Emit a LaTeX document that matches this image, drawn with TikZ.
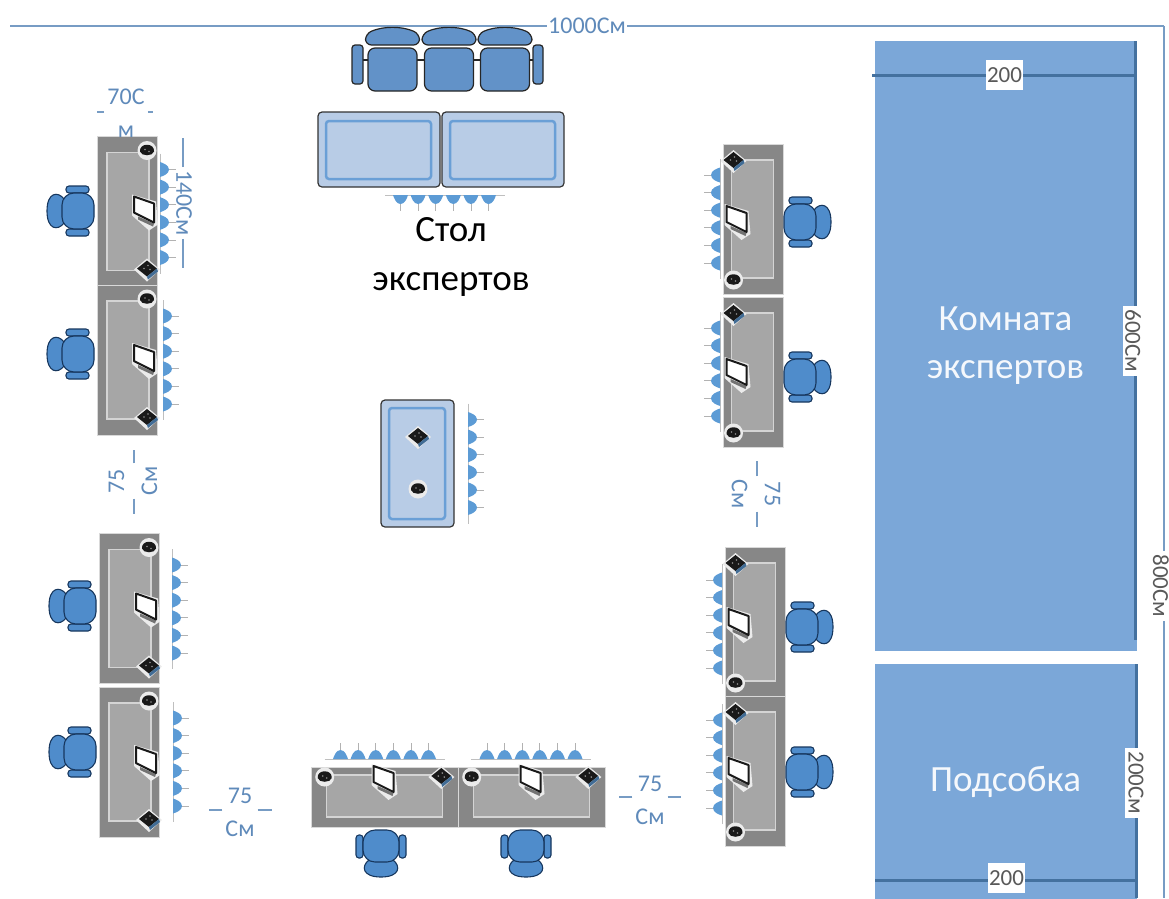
\documentclass[tikz,border=0pt]{standalone}
\usepackage{fontspec}
\setmainfont{Carlito}
\usepackage{xcolor}
\usetikzlibrary{positioning}
\definecolor{roomblue}{HTML}{7BA7D8}
\definecolor{roomedge}{HTML}{44719F}
\definecolor{chairblue}{HTML}{4F8CCB}
\definecolor{chairedge}{HTML}{17375E}
\definecolor{sofablue}{HTML}{6292C8}
\definecolor{tablefill}{HTML}{B8CCE6}
\definecolor{tablerim}{HTML}{6A9FD6}
\definecolor{lampblue}{HTML}{5C9BD5}
\definecolor{dimblue}{HTML}{5F8ABA}
\begin{document}
\begin{tikzpicture}[x=1pt,y=-1pt,
    dimlabel/.style={text=dimblue,inner sep=3pt,align=center,font=\fontsize{24}{33}\selectfont},
    dimline/.style={draw=dimblue!85,line width=1.2pt},
    sizelabel/.style={fill=white,text=black!65,inner sep=0pt,align=center,font=\fontsize{23}{24}\selectfont},
    roomline/.style={draw=roomedge,line width=3pt},
    room/.style={rectangle,fill=roomblue,text=white!92!roomblue,align=center,font=\fontsize{37}{48}\selectfont},
    topfurn/.style={draw=black!80,line width=1.2pt,fill=tablefill,rounded corners=4pt},
    toprim/.style={draw=tablerim,line width=2.5pt,rounded corners=3pt},
    chairpart/.style={draw=chairedge,line width=1.1pt,fill=chairblue},
    sofapart/.style={draw=black!85,line width=1.2pt,fill=sofablue},
    pics/lamps/.style={code={
        \draw[black!25,line width=.8pt] (-60,0) -- (60,0);
        \foreach \lx in {-44,-26.4,-8.8,8.8,26.4,44} {
            \draw[black!30,line width=.8pt] (\lx,-8) -- (\lx,-16);
            \fill[lampblue,shift={(\lx,0)}] (-7.5,0) .. controls (-6.5,-3) and (-4.5,-9) .. (0,-9) .. controls (4.5,-9) and (6.5,-3) .. (7.5,0) -- cycle;
        }
    }},
    pics/phone/.style={code={
        \fill[black!8] (0,0) circle[radius=9.5];
        \fill[black!90] (-7,1) .. controls (-8,-8) and (8,-8) .. (7,1) .. controls (6,6) and (-6,6) .. (-7,1) -- cycle;
        \fill[black!45] (-2,-1) circle[radius=.9];
        \fill[black!45] (2,1) circle[radius=.9];
    }},
    pics/switchbox/.style={code={
        \fill[black!8] (-13,0) -- (0,-11) -- (13,0) -- (0,12) -- cycle;
        \fill[black!90] (-10,-1) -- (0,-9) -- (10,-1) -- (0,7) -- cycle;
        \fill[lampblue!70!black] (0,7) -- (10,-1) -- (11,2) -- (1,10) -- cycle;
        \foreach \bx/\by in {-3/-1,1/-4,3/0} {\fill[black!45] (\bx,\by) circle[radius=.9];}
    }},
    pics/screen/.style={code={
        \fill[black!8] (-12,-16) -- (12,-9) -- (14,14) -- (5,20) -- (-12,5) -- cycle;
        \fill[black!55] (-6,6) -- (10,13) -- (9,16) -- (-6,9) -- cycle;
        \draw[black!90,line width=2pt,fill=white,line join=round] (-10,-14) -- (10,-7) -- (10,12) -- (-10,2) -- cycle;
    }},
    pics/workdesk/.style={code={
        \fill[black!47] (-75,-30) rectangle (75,30);
        \draw[black!15,line width=.8pt] (-75,-30) rectangle (75,30);
        \draw[black!17,line width=1.5pt,fill=black!35] (-59,-22) rectangle (59,20);
        \pic at (-61,-20) {phone};
        \pic at (58,-20) {switchbox};
        \pic at (-1,-17) {screen};
    }},
    pics/chair/.style={code={
        \draw[chairpart] (-12,14) .. controls (-20,20) and (-19,31) .. (0,31) .. controls (19,31) and (20,20) .. (12,14) -- cycle;
        \draw[chairpart,rounded corners=3pt] (-25,-11) rectangle (-18,12);
        \draw[chairpart,rounded corners=3pt] (18,-11) rectangle (25,12);
        \draw[chairpart,rounded corners=12pt] (-18,-16) rectangle (18,16);
    }},
    pics/sofaseat/.style={code={
        \draw[sofapart,rounded corners=6pt] (-27,-3) -- (-27,-14) .. controls (-10,-22) and (10,-22) .. (27,-14) -- (27,-3) -- cycle;
        \draw[sofapart,rounded corners=7pt] (-24.5,0) rectangle (24.5,43);
    }}
]
\useasboundingbox (0,0) rectangle (1169,898);

% rooms
\node[room,minimum width=262pt,minimum height=610pt] (mainroom) at (1005.5,346) {Комната\\экспертов};
\node[room,minimum width=262pt,minimum height=236pt] (backroom) at (1005.5,782) {Подсобка};
\coordinate (maintop) at (1135.5,41);
\coordinate (mainbot) at (1135.5,640);
\coordinate (backtop) at (1136.5,664);
\coordinate (backbot) at (1136.5,898);
\draw[roomline] (maintop) -- (mainbot);
\draw[roomline] (backtop) -- (backbot);
\coordinate (mainw) at (872,75);
\coordinate (maine) at (1135,75);
\coordinate (backw) at (875,880);
\coordinate (backe) at (1136,880);
\draw[roomline] (mainw) -- (maine);
\draw[roomline] (backw) -- (backe);
\node[sizelabel,minimum width=37pt,minimum height=30pt] (mainwidth) at (1004.5,75) {200};
\node[sizelabel,minimum width=37pt,minimum height=30pt] (backwidth) at (1006.5,878) {200};
\node[sizelabel,rotate=-90,minimum width=70pt,minimum height=20pt] (mainlen) at (1133,341) {600См};
\node[sizelabel,rotate=-90,minimum width=70pt,minimum height=22pt] (backlen) at (1136,783) {200См};

% outer dimensions
\coordinate (topleft) at (10,26);
\coordinate (topright) at (1164,26);
\coordinate (botright) at (1164,898);
\draw[dimline] (topright) -- (botright);
\draw[dimline] (topleft) -- node[dimlabel,fill=white,inner sep=1pt] (totalwidth) {1000См} (topright);
\node[sizelabel,rotate=-90,minimum width=70pt,minimum height=15pt] (totallen) at (1161,586) {800См};

% expert tables
\coordinate (armleft) at (363,60);
\coordinate (armright) at (533,60);
\draw[black!85,line width=2pt] (armleft) -- (armright);
\pic at (392.5,48) {sofaseat};
\pic at (449,48) {sofaseat};
\pic at (505,48) {sofaseat};
\draw[sofapart,rounded corners=3pt] (352,45) rectangle (363,84);
\draw[sofapart,rounded corners=3pt] (533,45) rectangle (543,84);
\draw[topfurn] (318,112) rectangle (440,187);
\draw[topfurn] (442,112) rectangle (564,187);
\draw[toprim] (326,121) rectangle (431,179);
\draw[toprim] (450,121) rectangle (555,179);
\pic[rotate=180] at (444.5,195) {lamps};
\node[font=\fontsize{37}{49}\selectfont,align=center] (experts) at (451,257) {Стол\\экспертов};

% middle table
\draw[topfurn] (381,400) rectangle (454,527);
\draw[toprim] (389,408) rectangle (445,519);
\pic at (418,437) {switchbox};
\pic at (418,489) {phone};
\pic[rotate=-90] at (468,463.5) {lamps};

% left row
\pic[rotate=-90] (deskA) at (127,211.5) {workdesk};
\pic[rotate=-90] (deskB) at (127,360) {workdesk};
\pic[rotate=-90] (deskC) at (129,608.5) {workdesk};
\pic[rotate=-90] (deskD) at (129,762) {workdesk};
\pic[rotate=-90] at (160,213.5) {lamps};
\pic[rotate=-90] at (163,360) {lamps};
\pic[rotate=-90] at (172,609) {lamps};
\pic[rotate=-90] at (173,762) {lamps};
\pic[rotate=-90] at (78,211) {chair};
\pic[rotate=-90] at (78,354) {chair};
\pic[rotate=-90] at (80,606) {chair};
\pic[rotate=-90] at (80,752) {chair};

% right row
\pic[rotate=90] (deskE) at (753.5,219) {workdesk};
\pic[rotate=90] (deskF) at (753.5,372) {workdesk};
\pic[rotate=90] (deskG) at (755.5,622) {workdesk};
\pic[rotate=90] (deskH) at (755.5,771) {workdesk};
\pic[rotate=90] at (720,219) {lamps};
\pic[rotate=90] at (720,372) {lamps};
\pic[rotate=90] at (722,624) {lamps};
\pic[rotate=90] at (722,764) {lamps};
\pic[rotate=90] at (800,222) {chair};
\pic[rotate=90] at (800,377) {chair};
\pic[rotate=90] at (802,627) {chair};
\pic[rotate=90] at (802,772) {chair};

% bottom row
\pic[xscale=.98] (deskJ) at (384.5,797) {workdesk};
\pic[xscale=.98] (deskK) at (531.5,797) {workdesk};
\pic at (384.5,759) {lamps};
\pic at (531,759) {lamps};
\pic at (381,846) {chair};
\pic at (526,846) {chair};

% desk dimensions
\node[dimlabel] (deskwidth) at (126,113) {70С\\м};
\coordinate (dwl) at (97,112);
\coordinate (dwr) at (153,112);
\draw[dimline] (deskwidth.west |- dwl) -- (dwl);
\draw[dimline] (deskwidth.east |- dwr) -- (dwr);
\node[dimlabel,rotate=-90] (desklen) at (184,203) {140См};
\coordinate (dlt) at (183,138);
\coordinate (dlb) at (183,268);
\draw[dimline] (dlt |- desklen.west) -- (dlt);
\draw[dimline] (dlb |- desklen.east) -- (dlb);
\node[dimlabel,rotate=90] (gapleft) at (133,481) {75\\См};
\coordinate (glt) at (134,450);
\coordinate (glb) at (134,514);
\draw[dimline] (glt |- gapleft.east) -- (glt);
\draw[dimline] (glb |- gapleft.west) -- (glb);
\node[dimlabel,rotate=-90] (gapright) at (756,494) {75\\См};
\coordinate (grt) at (757,461);
\coordinate (grb) at (757,527);
\draw[dimline] (grt |- gapright.west) -- (grt);
\draw[dimline] (grb |- gapright.east) -- (grb);
\node[dimlabel] (gapbotl) at (240,812) {75\\См};
\coordinate (gbl) at (209,810);
\coordinate (gbr) at (272,810);
\draw[dimline] (gapbotl.west |- gbl) -- (gbl);
\draw[dimline] (gapbotl.east |- gbr) -- (gbr);
\node[dimlabel] (gapbotr) at (650,800) {75\\См};
\coordinate (grl) at (619,797);
\coordinate (grr) at (681,797);
\draw[dimline] (gapbotr.west |- grl) -- (grl);
\draw[dimline] (gapbotr.east |- grr) -- (grr);
\end{tikzpicture}
\end{document}
